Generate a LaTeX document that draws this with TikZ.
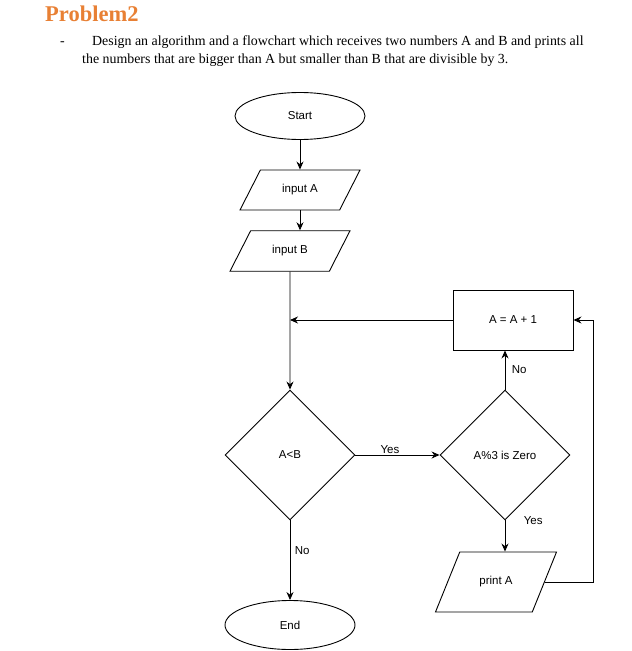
\documentclass[tikz,border=0pt]{standalone}
\usepackage{fontspec}
\setmainfont{Liberation Serif}
\newfontfamily\flowfont{Liberation Sans}
\usetikzlibrary{shapes.geometric,arrows.meta}
\definecolor{titleorange}{RGB}{232,128,52}

\begin{document}
\begin{tikzpicture}[x=1pt,y=1pt,yscale=-1,
    every node/.style={font=\flowfont\fontsize{11.5}{13}\selectfont},
    textline/.style={anchor=base west,inner sep=0,font=\rmfamily\fontsize{13.9}{16}\selectfont},
    terminal/.style={draw,line width=0.9pt,ellipse,minimum width=130pt,minimum height=47pt,inner sep=0},
    io/.style={draw,line width=0.9pt,trapezium,trapezium stretches body,trapezium left angle=63,trapezium right angle=117,minimum width=120pt,inner xsep=0,inner ysep=15pt,text height=8pt,text depth=2.5pt},
    decision/.style={draw,line width=0.9pt,diamond,minimum width=130pt,minimum height=130pt,inner sep=0},
    process/.style={draw,line width=0.9pt,rectangle,minimum width=120pt,minimum height=60pt,inner sep=0},
    arr/.style={line width=0.9pt,-{Stealth[length=8pt,width=7pt]}}]
    \useasboundingbox (0,0) rectangle (632,651);
    \node[anchor=base west,inner sep=0,text=titleorange,font=\rmfamily\bfseries\fontsize{22.5}{26}\selectfont] (title) at (45,21) {Problem2};
    \node[textline] (dash) at (60,45) {-};
    \node[textline] (line1) at (92,45) {Design an algorithm and a flowchart which receives two numbers A and B and prints all};
    \node[textline] (line2) at (82,63) {the numbers that are bigger than A but smaller than B that are divisible by 3.};
    \node[terminal] (start) at (300,116) {Start};
    \node[io,inner ysep=14.75pt] (inA) at (300,190) {input A};
    \node[io] (inB) at (290,251) {input B};
    \node[process] (inc) at (513,320) {A = A + 1};
    \node[decision] (less) at (290,455) {A<B};
    \node[decision] (mod) at (505,455) {A\%3 is Zero};
    \node[io,minimum width=121pt,inner ysep=24.75pt,trapezium left angle=68,trapezium right angle=112] (prA) at (496,582) {print A};
    \node[terminal,minimum height=49pt] (end) at (290,625) {End};
    \coordinate (back) at (593,582);
    \draw[arr] (start) -- (inA);
    \draw[arr] (inA.south) -- (inA.south |- inB.north);
    \draw[arr] (inB.south) -- (less.north);
    \draw[arr] (inc.west) -- (inc.west -| less.north);
    \draw[arr] (less.east) -- node[pos=0.41,yshift=5pt] {Yes} (mod.west);
    \draw[arr] (mod.north) -- node[anchor=west,xshift=3pt] {No} (mod.north |- inc.south);
    \draw[arr] (mod.south) -- node[at start,anchor=west,xshift=15pt] {Yes} (mod.south |- prA.north);
    \draw[arr] (prA.east) -- (back) |- (inc.east);
    \draw[arr] (less.south) -- node[pos=0.38,anchor=west,xshift=1pt] {No} (end.north);
\end{tikzpicture}
\end{document}
